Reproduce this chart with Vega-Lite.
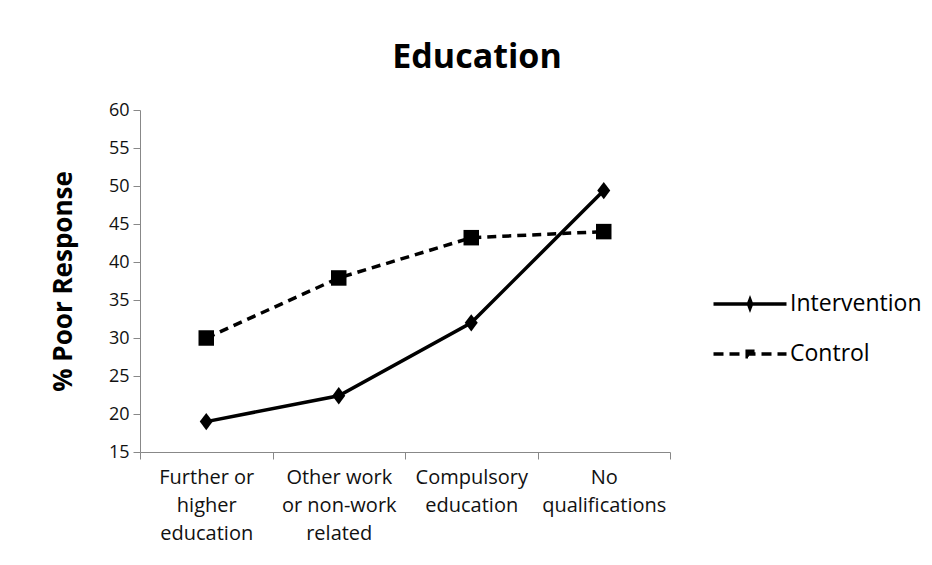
{
  "$schema": "https://vega.github.io/schema/vega-lite/v6.json",
  "width": 530,
  "height": 342,
  "autosize": "none",
  "padding": {"left": 140, "top": 110, "right": 262, "bottom": 113},
  "background": "white",
  "config": {
    "view": {"stroke": null},
    "font": "Open Sans",
    "axis": {"domainColor": "#888888", "tickColor": "#888888", "tickSize": 7, "grid": false, "labelColor": "#111111", "labelFont": "Open Sans"}
  },
  "title": {"text": "Education", "fontSize": 34, "font": "Open Sans", "fontWeight": "bold", "anchor": "middle", "dx": 72, "offset": 26, "color": "#000000"},
  "data": {
    "values": [
      {"category": "Further or|higher|education", "group": "Intervention", "value": 19.0},
      {"category": "Other work|or non-work|related", "group": "Intervention", "value": 22.4},
      {"category": "Compulsory|education", "group": "Intervention", "value": 32.0},
      {"category": "No|qualifications", "group": "Intervention", "value": 49.4},
      {"category": "Further or|higher|education", "group": "Control", "value": 30.0},
      {"category": "Other work|or non-work|related", "group": "Control", "value": 37.9},
      {"category": "Compulsory|education", "group": "Control", "value": 43.2},
      {"category": "No|qualifications", "group": "Control", "value": 44.0}
    ]
  },
  "encoding": {
    "x": {
      "field": "category", "type": "nominal", "sort": null, "bandPosition": 0.5,
      "scale": {"type": "band", "paddingInner": 0, "paddingOuter": 0},
      "axis": {"title": null, "labelAngle": 0, "tickBand": "extent", "labelExpr": "split(datum.label, '|')", "labelFontSize": 20, "labelLineHeight": 28, "labelPadding": 8, "labelBaseline": "top"}
    },
    "y": {
      "field": "value", "type": "quantitative",
      "scale": {"domain": [15, 60], "nice": false, "zero": false},
      "axis": {"title": "% Poor Response", "values": [15, 20, 25, 30, 35, 40, 45, 50, 55, 60], "labelFontSize": 18, "labelPadding": 4, "titleFontSize": 26, "titleFontWeight": "bold", "titleColor": "#000000", "titleX": -77, "titleY": 171, "titleAngle": -90, "titleAlign": "center", "titleBaseline": "middle"}
    }
  },
  "layer": [
    {
      "transform": [{"filter": "datum.group === 'Intervention'"}],
      "mark": {"type": "line", "strokeWidth": 3.5, "color": "black"}
    },
    {
      "transform": [{"filter": "datum.group === 'Control'"}],
      "mark": {"type": "line", "strokeWidth": 3.5, "color": "black", "strokeDash": [9, 6]}
    },
    {
      "transform": [{"filter": "datum.group === 'Intervention'"}],
      "mark": {"type": "point", "filled": true, "color": "black", "opacity": 1, "shape": "M0,-1L0.75,0L0,1L-0.75,0Z", "size": 300}
    },
    {
      "transform": [{"filter": "datum.group === 'Control'"}],
      "mark": {"type": "point", "filled": true, "color": "black", "opacity": 1, "shape": "square", "size": 240}
    },
    {
      "transform": [{"filter": "datum.value < 0"}],
      "mark": {"type": "point", "filled": false, "color": "black", "strokeWidth": 3.5, "opacity": 1},
      "encoding": {
        "shape": {
          "field": "group", "type": "nominal",
          "scale": {"domain": ["Intervention", "Control"], "range": ["M-3.65,0L3.65,0M0,-0.4L0.15,0L0,0.4L-0.15,0Z", "M-3.65,0L3.65,0M-0.28,-0.28L0.28,-0.28L0.28,0.28L-0.28,0.28Z"]},
          "legend": {
            "title": null, "orient": "none", "legendX": 598, "legendY": 182,
            "symbolSize": 400, "labelOffset": 28, "labelFontSize": 23, "labelColor": "#000000", "rowPadding": 26,
            "symbolStrokeColor": "black", "symbolStrokeWidth": 3.5, "symbolOpacity": 1
          }
        },
        "strokeDash": {
          "field": "group", "type": "nominal",
          "scale": {"domain": ["Intervention", "Control"], "range": [[1, 0], [10, 6]]}
        }
      }
    }
  ]
}
